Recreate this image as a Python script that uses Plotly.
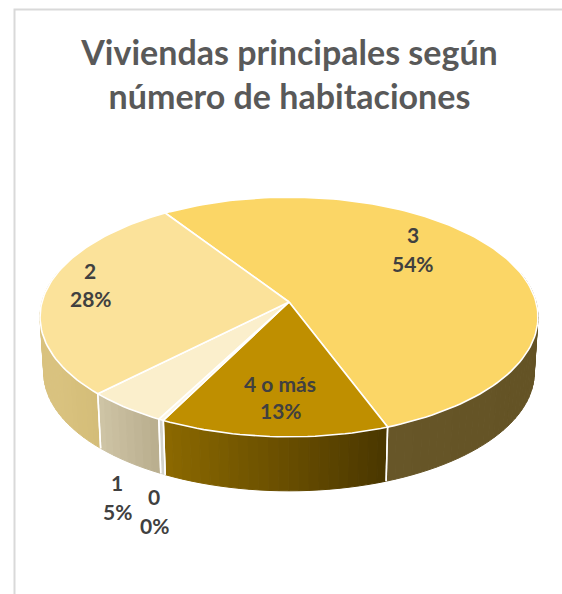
import math
import plotly.graph_objects as go

# Data (clockwise from the first slice)
categories = ["3", "4 o más", "0", "1", "2"]
values = [53.6, 13.2, 0.3, 4.7, 28.2]

# Styles
top_colors = ["#FBD666", "#BF8F00", "#FDF6E3", "#FBEFCC", "#FBE29A"]
wall_left = ["#675628", "#8C6900", "#D8D8D0", "#CFC5A6", "#D9C27F"]
wall_right = ["#645325", "#4A3700", "#D0D0C8", "#B8AD8D", "#D4BD78"]
label_lines = {
    "3": ((412.5, 234.5), (412.5, 263.5)),
    "4 o más": ((280, 383.5), (280.5, 410.5)),
    "0": ((154, 496.5), (154, 525.5)),
    "1": ((117, 482.5), (117, 511.5)),
    "2": ((90, 270.5), (90.5, 298.5)),
}

W, H = 562, 594
CX, CY = 289.0, 302.0
RX, RY, K = 247.0, 118.0, 0.125
DEPTH, BOTTOM_SCALE = 56.0, 0.985
START = 123.6


def project(theta, bottom=False):
    t = math.radians(theta)
    c, s = math.cos(t), math.sin(t)
    d = 1 + K * s
    x, y = RX * c / d, -RY * s / d
    if bottom:
        return CX + x * BOTTOM_SCALE, CY + DEPTH + y * BOTTOM_SCALE
    return CX + x, CY + y


def mix(a, b, f):
    pa = [int(a[i:i + 2], 16) for i in (1, 3, 5)]
    pb = [int(b[i:i + 2], 16) for i in (1, 3, 5)]
    return "rgb(%d,%d,%d)" % tuple(round(u + (v - u) * f) for u, v in zip(pa, pb))


total = sum(values)
bounds = []
a = START
for v in values:
    b = a - v / total * 360
    bounds.append((a, b))
    a = b

fig = go.Figure()
VIS_HI, VIS_LO = 15.0, -195.0


def poly(xs, ys, fill, line=None, width=1.0):
    fig.add_trace(go.Scatter(
        x=xs, y=ys, mode="lines", fill="toself", fillcolor=fill,
        line=dict(color=line or fill, width=width), hoverinfo="skip", showlegend=False))


# Side walls, drawn as narrow strips to give the horizontal gradient
for (a, b), cl, cr in zip(bounds, wall_left, wall_right):
    hi, lo = min(a, VIS_HI), max(b, VIS_LO)
    if hi <= lo:
        continue
    n = max(1, int((hi - lo) / 2))
    x_l, _ = project(lo)
    x_r, _ = project(hi)
    for i in range(n):
        t0 = lo + (hi - lo) * i / n
        t1 = lo + (hi - lo) * (i + 1) / n
        pts = [project(t0), project(t1), project(t1, True), project(t0, True)]
        xm = (pts[0][0] + pts[1][0]) / 2
        f = (xm - x_l) / (x_r - x_l) if x_r != x_l else 0
        f = min(1, max(0, f))
        poly([p[0] for p in pts] + [pts[0][0]], [p[1] for p in pts] + [pts[0][1]], mix(cl, cr, f), width=1.0)

# White separators on the walls
for (a, b) in bounds:
    for t in (a, b):
        if VIS_LO < t < VIS_HI or VIS_LO < t + 360 < VIS_HI:
            p, q = project(t), project(t, True)
            fig.add_trace(go.Scatter(x=[p[0], q[0]], y=[p[1], q[1]], mode="lines",
                                     line=dict(color="white", width=1.5),
                                     hoverinfo="skip", showlegend=False))

# Top faces
for (a, b), col in zip(bounds, top_colors):
    n = max(2, int((a - b) / 1.5))
    pts = [(CX, CY)] + [project(a + (b - a) * i / n) for i in range(n + 1)] + [(CX, CY)]
    poly([p[0] for p in pts], [p[1] for p in pts], col, line="white", width=1.6)

annotations = []
for cat, v in zip(categories, values):
    (x1, y1), (x2, y2) = label_lines[cat]
    for txt, x, y in ((cat, x1, y1), ("%d%%" % round(v / total * 100), x2, y2)):
        annotations.append(dict(x=x, y=y, xref="x", yref="y", text=txt, showarrow=False,
                                xanchor="center", yanchor="middle",
                                font=dict(family="Lato", size=21, color="#404040", weight="bold")))

fig.update_layout(
    width=W, height=H, margin=dict(l=0, r=0, t=0, b=0),
    paper_bgcolor="white", plot_bgcolor="white", showlegend=False,
    title=dict(text="Viviendas principales según<br>número de habitaciones",
               x=289.5 / W, xanchor="center", xref="paper",
               y=1 - 65 / H, yanchor="top", yref="container",
               font=dict(family="Lato", size=34, color="#595959", weight="bold")),
    xaxis=dict(range=[0, W], visible=False, fixedrange=True),
    yaxis=dict(range=[H, 0], visible=False, fixedrange=True),
    annotations=annotations,
    shapes=[dict(type="path", xref="x", yref="y",
                 path="M 14.5 %d L 14.5 9.5 L %d 9.5" % (H, W),
                 line=dict(color="#D9D9D9", width=2))],
)
fig.write_html("out.html", config=dict(displayModeBar=False),
               post_script="document.body.style.margin='0';document.documentElement.style.overflow='hidden';")
